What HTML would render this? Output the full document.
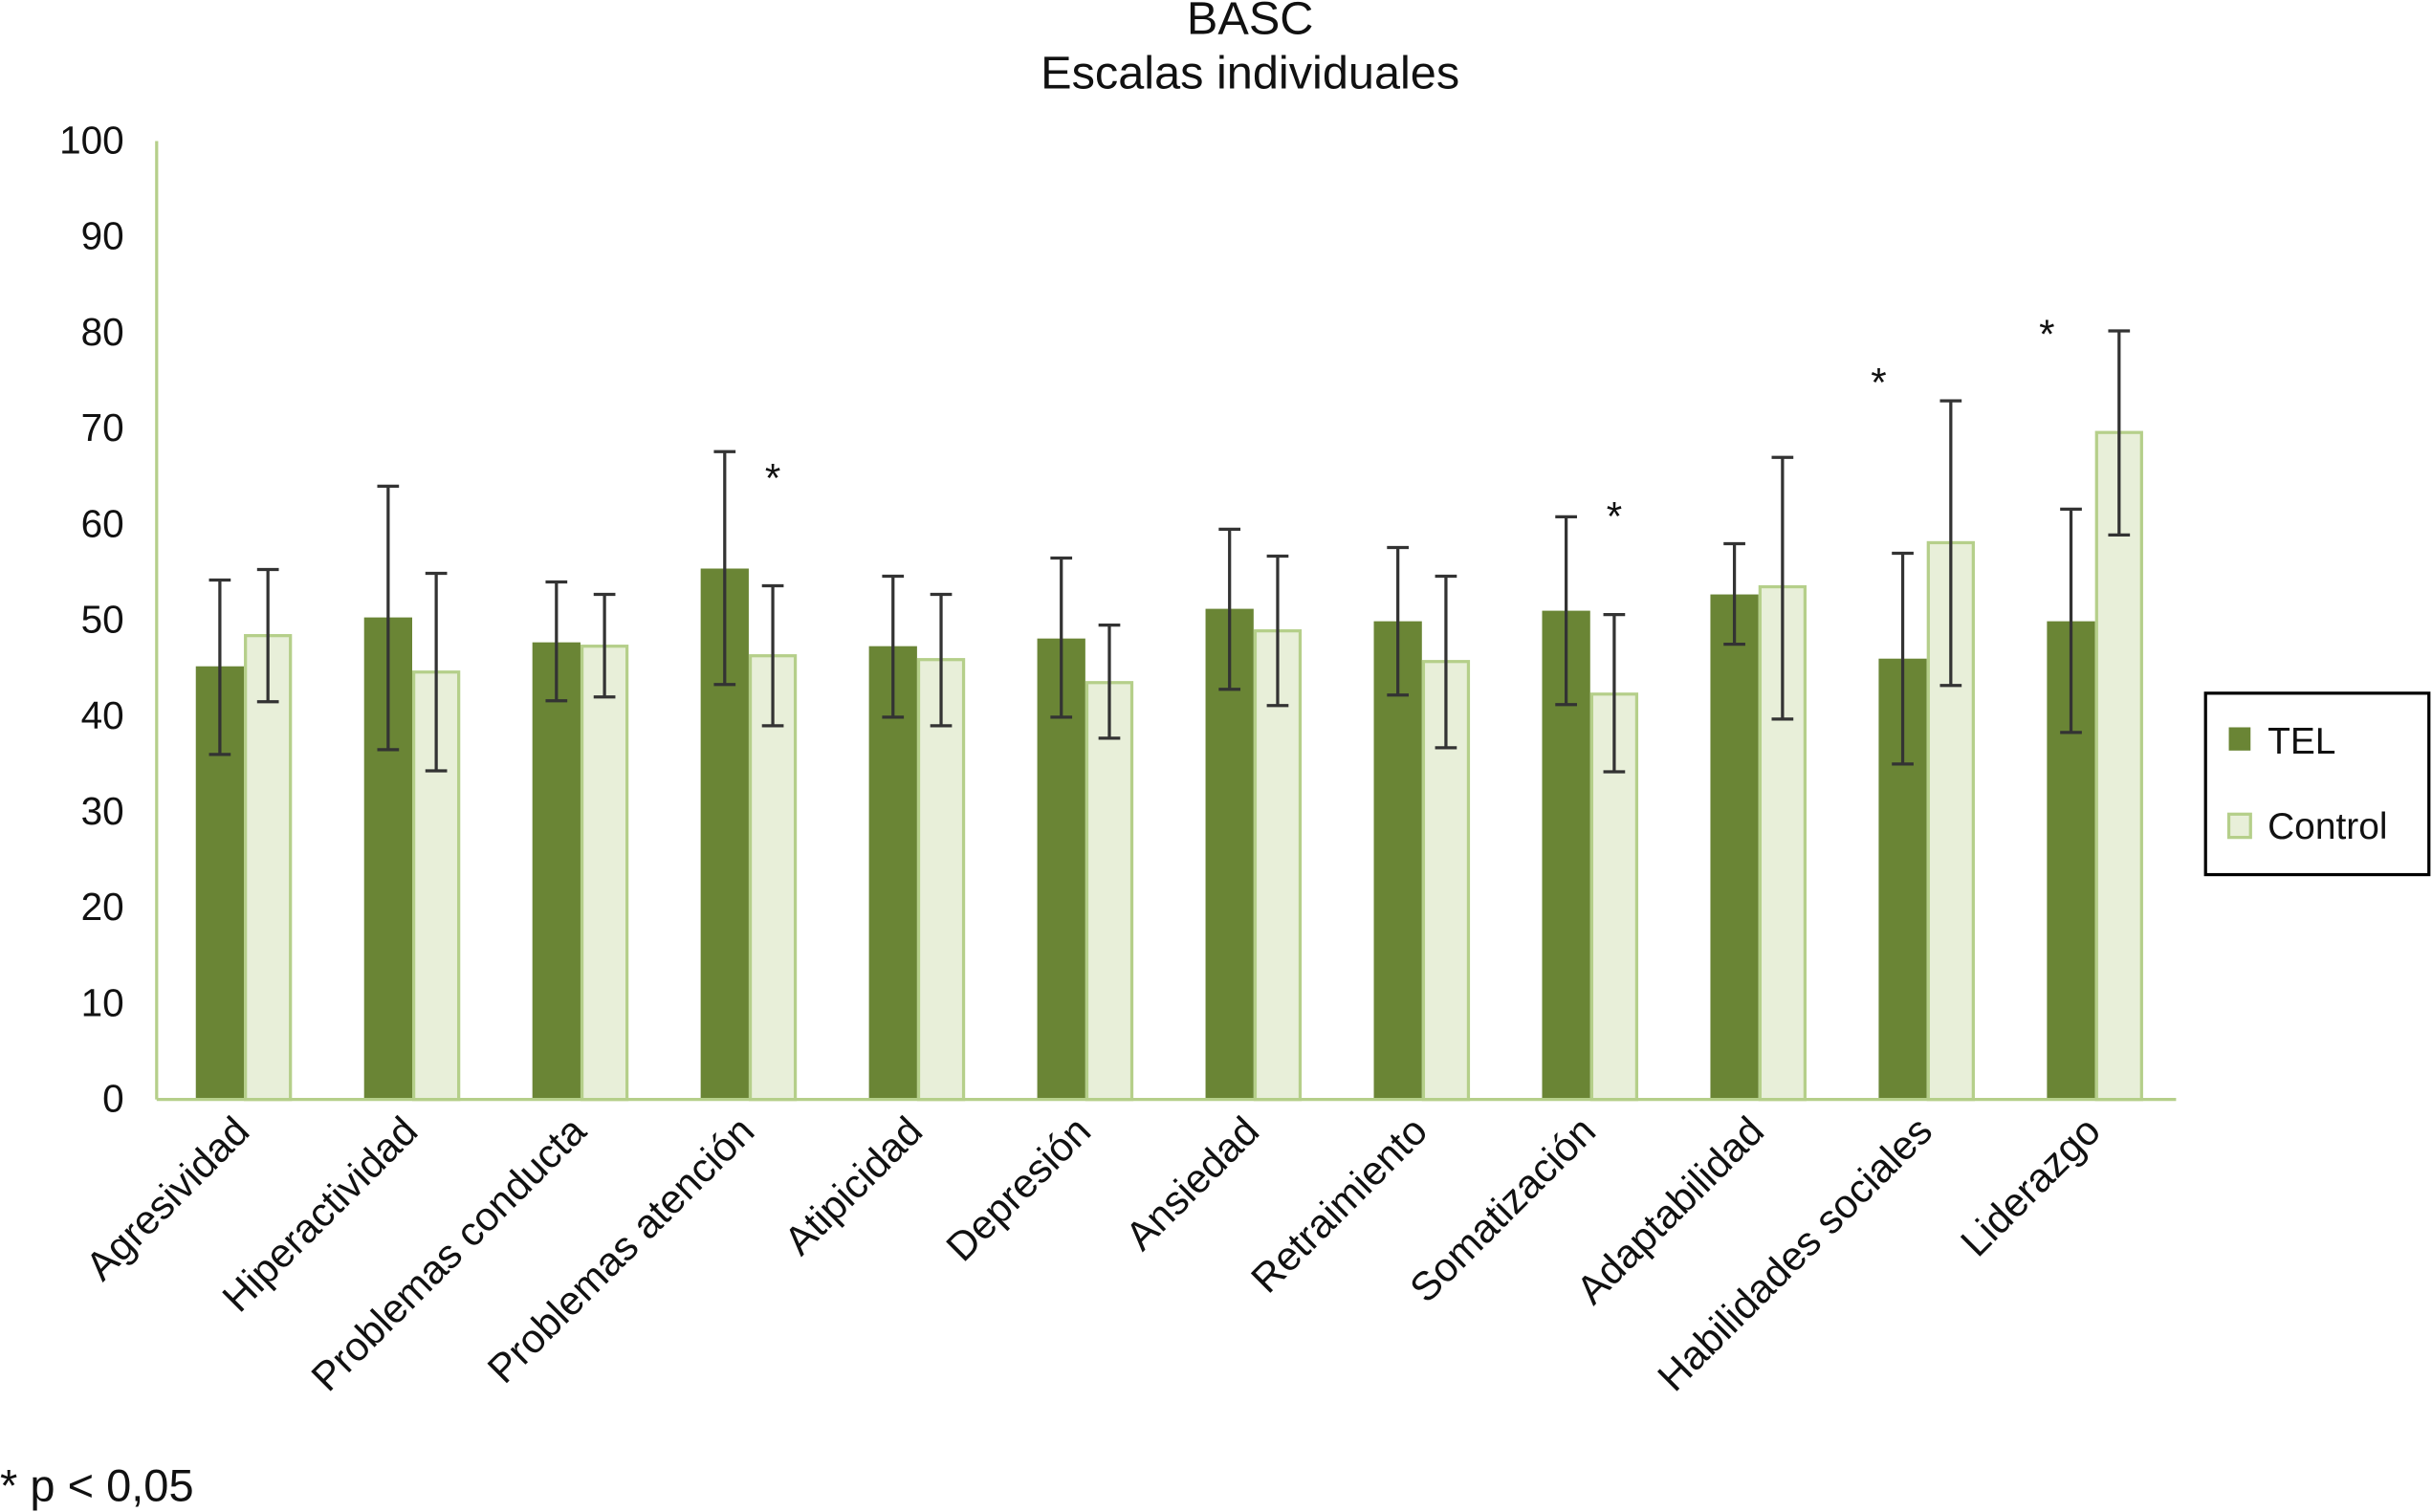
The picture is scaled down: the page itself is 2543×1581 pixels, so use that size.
<!DOCTYPE html>
<html><head><meta charset="utf-8"><style>
html,body{margin:0;padding:0;background:#fff}
svg{display:block;font-family:"Liberation Sans",Arial,sans-serif}
</style></head><body>
<svg width="2543" height="1581" viewBox="0 0 1568 975" preserveAspectRatio="none" xmlns="http://www.w3.org/2000/svg">
<text x="806" y="22" font-size="30" text-anchor="middle" fill="#111">BASC</text>
<text x="806" y="57" font-size="30" text-anchor="middle" fill="#111">Escalas individuales</text>
<g id="plot"></g>
<text x="0" y="968" font-size="29" fill="#111">* p &lt; 0,05</text>
<g>
<rect x="1422" y="447" width="144" height="117" fill="#fff" stroke="#000" stroke-width="2"/>
<rect x="1437" y="469" width="14" height="15" fill="#6a8535"/>
<text x="1462" y="486" font-size="24" fill="#111">TEL</text>
<rect x="1437" y="525" width="14" height="15" fill="#e8efd9" stroke="#b5cf8a" stroke-width="2"/>
<text x="1462" y="541" font-size="24" fill="#111">Control</text>
</g>
</svg>
<script>
const categories=["Agresividad","Hiperactividad","Problemas conducta","Problemas atención","Atipicidad","Depresión","Ansiedad","Retraimiento","Somatización","Adaptabilidad","Habilidades sociales","Liderazgo"];
const telValues=[45.2,50.3,47.7,55.4,47.3,48.1,51.2,49.9,51.0,52.7,46.0,49.9];
const telUpper=[54.2,64.0,54.0,67.6,54.6,56.5,59.5,57.6,60.8,58.0,57.0,61.6];
const telLower=[36.0,36.5,41.6,43.3,39.9,39.9,42.8,42.2,41.2,47.5,35.0,38.3];
const controlValues=[48.4,44.6,47.3,46.3,45.9,43.5,48.9,45.7,42.3,53.5,58.1,69.6];
const controlUpper=[55.3,54.9,52.7,53.6,52.7,49.5,56.7,54.6,50.6,67.0,72.9,80.2];
const controlLower=[41.5,34.3,42.0,39.0,39.0,37.7,41.1,36.7,34.2,39.7,43.2,58.9];
const sigCategories=["Problemas atención","Somatización","Habilidades sociales","Liderazgo"];
const sigSeries=["control","control","tel","tel"];
const sigValues=[65,61,75,80];
const yTicks=[0,10,20,30,40,50,60,70,80,90,100];

const NS="http://www.w3.org/2000/svg";
const g=document.getElementById('plot');
const x0=101,x1=1403,yBase=709,yTop=91;
const y=v=>yBase-(v/100)*(yBase-yTop);
const band=(x1-x0)/categories.length;
const cx=i=>x0+band*(i+0.5)+2;
const bw=31;
function mk(tag,attrs){const e=document.createElementNS(NS,tag);for(const k in attrs)e.setAttribute(k,attrs[k]);g.appendChild(e);return e;}

yTicks.forEach(t=>{
 const e=mk('text',{x:80,y:y(t)+8,'font-size':25,'text-anchor':'end',fill:'#111'});
 
 
 e.textContent=t;
});
const ya=mk('line',{x1:x0,y1:yTop,x2:x0,y2:yBase,stroke:'#b5cf8a','stroke-width':2});



function errBar(xc,lo,hi){
 const l=mk('path',{d:`M${xc},${y(hi)}V${y(lo)}M${xc-7},${y(hi)}H${xc+7}M${xc-7},${y(lo)}H${xc+7}`,stroke:'#333','stroke-width':2,fill:'none'});
 
 
}
categories.forEach((c,i)=>{
 const c0=cx(i);
 const b1=mk('rect',{x:c0-bw,y:y(telValues[i]),width:bw,height:yBase-y(telValues[i]),fill:'#6a8535'});
 
 
 const b2=mk('rect',{x:c0+1,y:y(controlValues[i]),width:bw-2,height:yBase-y(controlValues[i]),fill:'#e8efd9',stroke:'#b5cf8a','stroke-width':2});
 
 
 errBar(c0-bw/2,telLower[i],telUpper[i]);
 errBar(c0+bw/2,controlLower[i],controlUpper[i]);
 const lx=c0+5,ly=731;
 const t=mk('text',{x:lx,y:ly,'font-size':26,'text-anchor':'end',fill:'#111',transform:`rotate(-45 ${lx} ${ly})`});
 
 
 t.textContent=c;
});
const xa=mk('line',{x1:x0,y1:yBase,x2:x1,y2:yBase,stroke:'#b5cf8a','stroke-width':2});



sigCategories.forEach((c,k)=>{
 const i=categories.indexOf(c);
 const xc=sigSeries[k]==='tel'?cx(i)-bw:cx(i)+bw/2;
 const s=mk('text',{x:xc,y:y(sigValues[k])+10,'font-size':26,'text-anchor':'middle',fill:'#111'});
 
 
 s.textContent='*';
});
</script>
</body></html>
